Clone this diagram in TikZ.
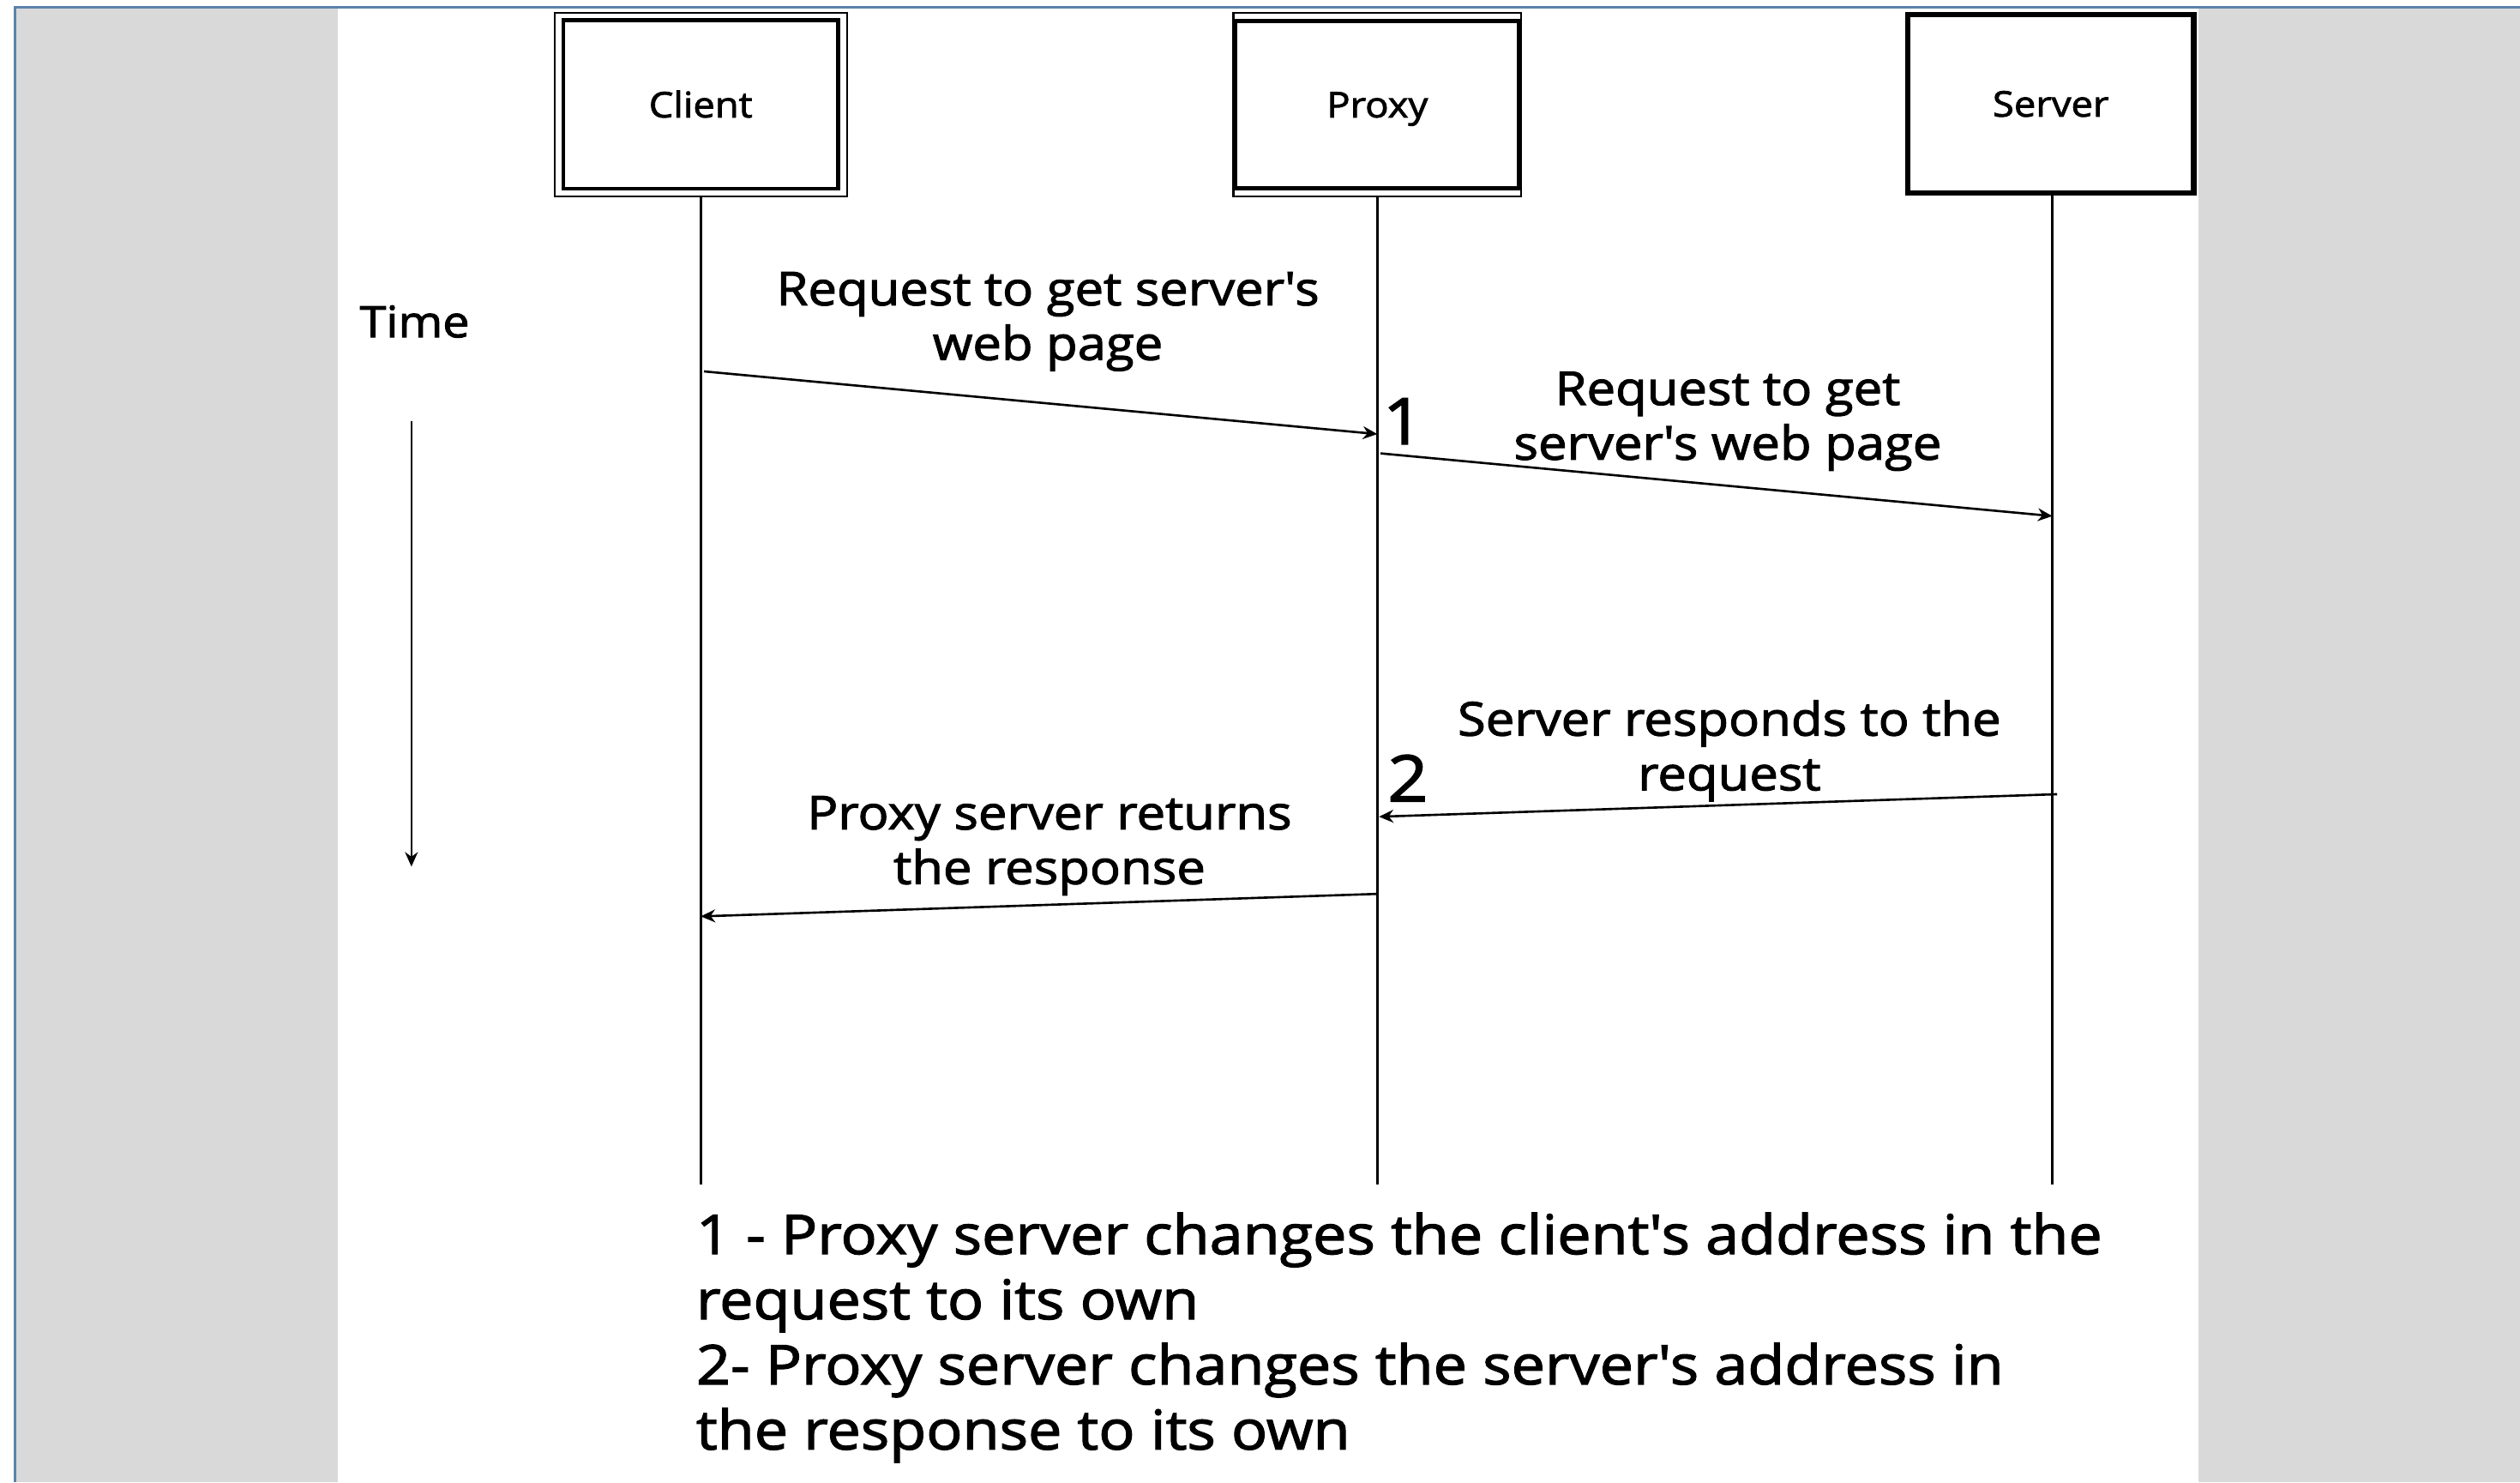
\documentclass[tikz,border=0pt]{standalone}
\usepackage{fontspec}
\setmainfont{Open Sans}[FakeStretch=1.1,FakeBold=2]
\usetikzlibrary{arrows.meta}
\definecolor{bggray}{RGB}{217,217,217}
\definecolor{framecol}{RGB}{92,130,172}
\newcommand\apos{\textquotesingle}
\begin{document}
\begin{tikzpicture}[x=1pt,y=-1pt,
 lifeline/.style={line width=1.4pt},
 msg/.style={line width=1.4pt,-{Stealth[length=9pt,width=8pt]}},
 lbl/.style={align=center,font=\fontsize{29}{34}\selectfont,inner sep=0pt},
 boxlbl/.style={font=\fontsize{22}{26}\selectfont,text height=21pt,text depth=5pt},
 num/.style={font=\fontsize{40}{44}\selectfont,inner sep=0pt},
 actor/.style={draw,minimum height=114pt,inner sep=0pt,boxlbl},
]
\useasboundingbox (0,0) rectangle (1568,922);
% page background
\fill[bggray] (10,5) rectangle (1568,922);
\fill[white] (210,5) rectangle (1368,922);
\draw[framecol,line width=1.5pt] (9.5,922) -- (9.5,4.5) -- (1568,4.5);

% actors
\node[actor,line width=1.2pt,minimum width=182pt] (client) at (436,65) {Client};
\draw[line width=2.4pt] (350.5,12.5) rectangle (521.5,117.5);
\node[actor,line width=1.2pt,minimum width=179pt] (proxy) at (857,65) {Proxy};
\draw[line width=2.4pt] (768.8,13) rectangle (945.2,117);
\node[actor,line width=3.5pt,minimum width=178pt,minimum height=111pt] (server) at (1276,64.5) {Server};

% lifelines
\coordinate (cend) at (436,737);
\coordinate (pend) at (857,737);
\coordinate (send) at (1277,737);
\draw[lifeline] (client.south) -- (cend);
\draw[lifeline] (proxy.south) -- (pend);
\draw[lifeline] (server.south -| send) -- (send);

% time
\node[font=\fontsize{27}{32}\selectfont] (time) at (258,200) {Time};
\coordinate (tstart) at (256,262);
\coordinate (tend) at (256,539);
\draw[msg] (tstart) -- (tend);

% messages
\coordinate (m1s) at (438,231);
\coordinate (m1e) at (857,270);
\coordinate (m2s) at (859,282);
\coordinate (m2e) at (1277,321);
\coordinate (m3s) at (1280,494);
\coordinate (m3e) at (858,508);
\coordinate (m4s) at (857,556);
\coordinate (m4e) at (436,570);
\draw[msg] (m1s) -- (m1e);
\draw[msg] (m2s) -- (m2e);
\draw[msg] (m3s) -- (m3e);
\draw[msg] (m4s) -- (m4e);

\node[lbl] (l1) at (652,200) {Request to get server\apos s\\web page};
\node[lbl] (l2) at (1075,262) {Request to get\\server\apos s web page};
\node[lbl] (l3) at (1076,467) {Server responds to the\\request};
\node[lbl] (l4) at (653,526) {Proxy server returns\\the response};

\node[num] (n1) at (873,262) {1};
\node[num] (n2) at (876,484) {2};

% note
\node[anchor=north west,align=left,inner sep=0pt,font=\fontsize{34}{40.5}\selectfont] (note) at (433,754)
 {1 - Proxy server changes the client\apos s address in the\\request to its own\\2- Proxy server changes the server\apos s address in\\the response to its own};
\end{tikzpicture}
\end{document}
